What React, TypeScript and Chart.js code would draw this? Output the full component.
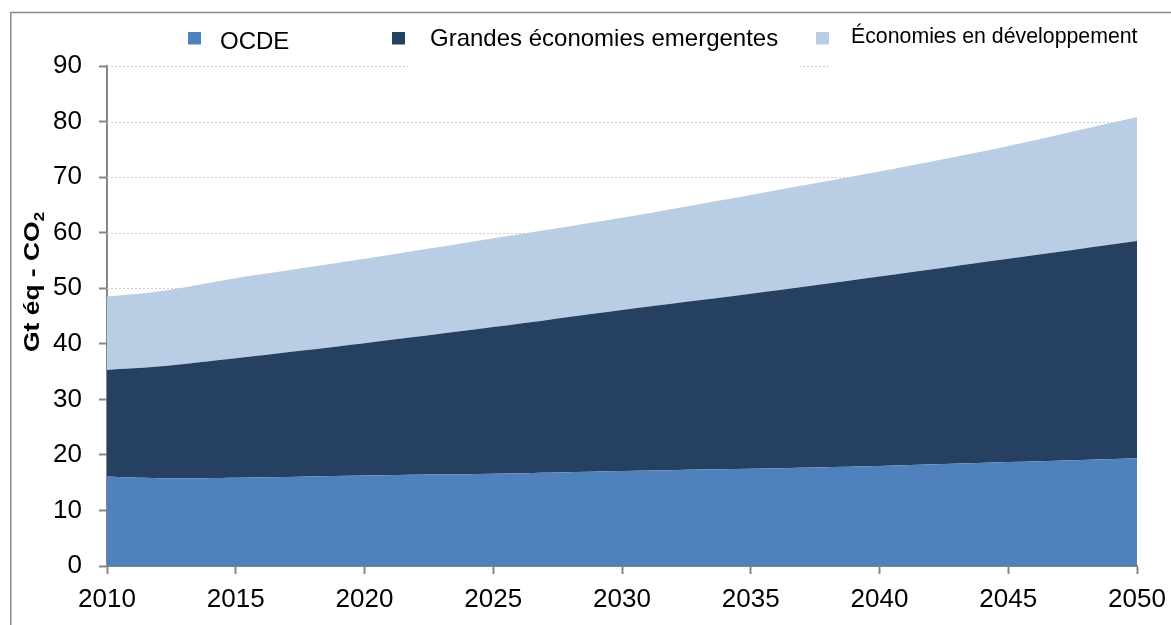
import React, { useEffect, useRef } from "react";
import { Chart, registerables } from "chart.js";

Chart.register(...registerables);

const years = [2010, 2012, 2015, 2020, 2025, 2030, 2035, 2040, 2045, 2050];
const ocde = [16.1, 15.8, 15.9, 16.3, 16.6, 17.1, 17.5, 18.0, 18.7, 19.4];
const emerging = [19.2, 20.1, 21.5, 23.8, 26.4, 29.0, 31.5, 34.1, 36.6, 39.1];
const developing = [13.2, 13.5, 14.4, 15.2, 16.0, 16.6, 17.8, 18.9, 20.3, 22.3];

const seriesNames = ["OCDE", "Grandes économies emergentes", "Économies en développement"];
const seriesColors = ["#4F81BD", "#254061", "#B9CDE5"];
const yTitleMain = "Gt éq - CO";
const yTitleSub = "2";

const FONT = "'Liberation Sans', Arial, Helvetica, sans-serif";
const AXIS = "#868686";

export default function App() {
  const ref = useRef<HTMLCanvasElement>(null);

  useEffect(() => {
    document.body.style.margin = "0";
    const canvas = ref.current;
    if (!canvas) return;

    const gridPlugin = {
      id: "dottedGrid",
      beforeDatasetsDraw(chart: any) {
        const { ctx, chartArea, scales } = chart;
        const y = scales.y;
        ctx.save();
        ctx.strokeStyle = "#cccccc";
        ctx.lineWidth = 1;
        ctx.setLineDash([2, 2]);
        y.ticks.forEach((t: any) => {
          if (t.value === 0) return;
          const py = Math.round(y.getPixelForValue(t.value)) + 0.5;
          ctx.beginPath();
          ctx.moveTo(chartArea.left, py);
          ctx.lineTo(chartArea.right, py);
          ctx.stroke();
        });
        ctx.restore();
      },
    };

    const decorPlugin = {
      id: "decor",
      afterDraw(chart: any) {
        const { ctx } = chart;
        ctx.save();
        // legend boxes (white backgrounds, as in the source)
        ctx.fillStyle = "#ffffff";
        ctx.fillRect(408, 18, 392, 52);
        ctx.fillRect(830, 18, 341, 52);

        const items = [
          { box: [188, 32], text: [220, 49.3], size: 24 },
          { box: [392, 32], text: [430, 45.7], size: 24 },
          { box: [816, 32], text: [851, 43.3], size: 21.3 },
        ];
        items.forEach((it, i) => {
          ctx.fillStyle = seriesColors[i];
          ctx.fillRect(it.box[0], it.box[1], 13, 12.5);
          ctx.fillStyle = "#000000";
          ctx.font = `${it.size}px ${FONT}`;
          ctx.textAlign = "left";
          ctx.textBaseline = "alphabetic";
          ctx.fillText(seriesNames[i], it.text[0], it.text[1]);
        });

        // outer frame
        ctx.strokeStyle = "#8a8a8a";
        ctx.lineWidth = 1.5;
        ctx.beginPath();
        ctx.moveTo(10.75, 625);
        ctx.lineTo(10.75, 12.5);
        ctx.lineTo(1171, 12.5);
        ctx.stroke();

        // y axis title
        ctx.translate(38.5, 282);
        ctx.rotate(-Math.PI / 2);
        ctx.font = `bold 22px ${FONT}`;
        const w1 = ctx.measureText(yTitleMain).width;
        ctx.font = `bold 14px ${FONT}`;
        const w2 = ctx.measureText(yTitleSub).width;
        const total = w1 + w2;
        const sx = 140 / total;
        ctx.scale(sx, 1);
        ctx.fillStyle = "#000000";
        ctx.textAlign = "left";
        ctx.textBaseline = "alphabetic";
        ctx.font = `bold 22px ${FONT}`;
        ctx.fillText(yTitleMain, -total / 2, 0);
        ctx.font = `bold 14px ${FONT}`;
        ctx.fillText(yTitleSub, -total / 2 + w1, 5);
        ctx.restore();
      },
    };

    const mk = (vals: number[]) => years.map((x, i) => ({ x, y: vals[i] }));

    const chart = new Chart(canvas, {
      type: "line",
      data: {
        datasets: [
          { label: seriesNames[0], data: mk(ocde), backgroundColor: seriesColors[0], borderColor: seriesColors[0], borderWidth: 0, pointRadius: 0, fill: "origin", tension: 0.3 },
          { label: seriesNames[1], data: mk(emerging), backgroundColor: seriesColors[1], borderColor: seriesColors[1], borderWidth: 0, pointRadius: 0, fill: "-1", tension: 0.3 },
          { label: seriesNames[2], data: mk(developing), backgroundColor: seriesColors[2], borderColor: seriesColors[2], borderWidth: 0, pointRadius: 0, fill: "-1", tension: 0.3 },
        ],
      },
      options: {
        animation: false,
        responsive: false,
        maintainAspectRatio: false,
        layout: { padding: { top: 66, right: 34, bottom: 0, left: 0 } },
        plugins: { legend: { display: false }, tooltip: { enabled: false }, title: { display: false } },
        scales: {
          x: {
            type: "linear",
            min: 2010,
            max: 2050,
            z: 1,
            ticks: {
              stepSize: 5,
              color: "#000",
              font: { family: FONT, size: 26 },
              padding: 10,
              maxRotation: 0,
              autoSkip: false,
              callback: (v: any) => String(v),
            },
            grid: { drawOnChartArea: false, drawTicks: true, tickLength: 8, tickColor: AXIS, tickWidth: 2 },
            border: { display: true, color: AXIS, width: 2 },
            afterFit: (s: any) => {
              s.height = 59;
              s.paddingLeft = 0;
              s.paddingRight = 0;
            },
          },
          y: {
            stacked: true,
            min: 0,
            max: 90,
            z: 1,
            ticks: { stepSize: 10, color: "#000", font: { family: FONT, size: 26 }, padding: 17 },
            grid: { drawOnChartArea: false, drawTicks: true, tickLength: 8, tickColor: AXIS, tickWidth: 2 },
            border: { display: true, color: AXIS, width: 2 },
            afterFit: (s: any) => {
              s.width = 107;
              s.paddingTop = 0;
              s.paddingBottom = 0;
            },
          },
        },
      } as any,
      plugins: [gridPlugin, decorPlugin],
    });

    return () => chart.destroy();
  }, []);

  return (
    <div style={{ width: 1171, height: 625 }}>
      <canvas ref={ref} width={1171} height={625} style={{ display: "block" }} />
    </div>
  );
}
